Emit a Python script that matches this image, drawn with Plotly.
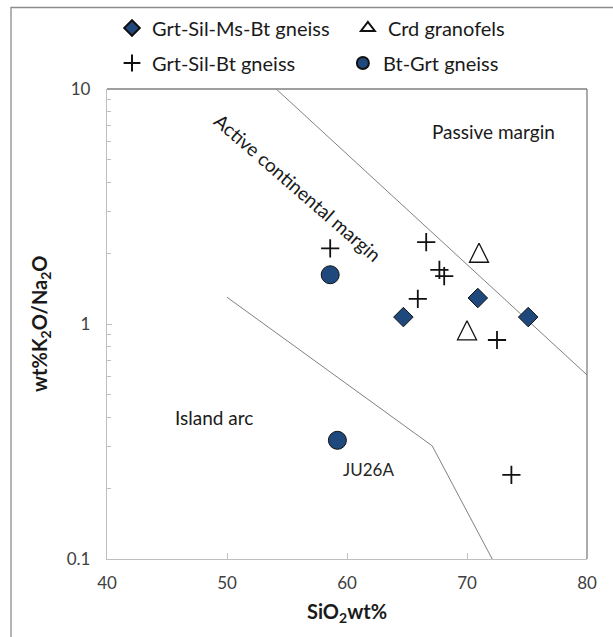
import plotly.graph_objects as go

# ---- data ----
ms_bt_x = [64.7, 70.9, 75.1]
ms_bt_y = [1.07, 1.29, 1.07]

crd_x = [71.0, 70.0]
crd_y = [2.01, 0.94]

sil_bt_x = [58.6, 66.6, 67.7, 68.1, 65.9, 72.5, 73.7]
sil_bt_y = [2.10, 2.23, 1.70, 1.60, 1.28, 0.855, 0.228]

bt_grt_x = [58.6, 59.2]
bt_grt_y = [1.62, 0.32]

pm_acm_x = [54.1, 80.0]
pm_acm_y = [10.0, 0.607]

acm_arc_x = [50.0, 67.1, 72.1]
acm_arc_y = [1.30, 0.303, 0.10]

x_ticks = [40, 50, 60, 70, 80]
y_ticks = [0.1, 1, 10]
y_tick_text = ["0.1", "1", "10"]
y_minor = [0.2, 0.3, 0.4, 0.5, 0.6, 0.7, 0.8, 0.9, 2, 3, 4, 5, 6, 7, 8, 9]

FONT = "Lato"
FS = 17
FS_ANN = 19
FS_LEG = 20
FS_TITLE = 20
BLUE = "#1F497D"
AX = "#BFBFBF"
TRI = 19

fig = go.Figure()

# boundary lines
for bx, by in [(pm_acm_x, pm_acm_y), (acm_arc_x, acm_arc_y)]:
    fig.add_trace(go.Scatter(x=bx, y=by, mode="lines", showlegend=False,
                             line=dict(color="#808080", width=1), hoverinfo="skip"))

fig.add_trace(go.Scatter(x=ms_bt_x, y=ms_bt_y, mode="markers", name="Grt-Sil-Ms-Bt gneiss",
                         legend="legend",
                         marker=dict(symbol="diamond", size=15, color=BLUE,
                                     line=dict(color="#111111", width=1))))
# legend entry for the triangles (plain triangle symbol)
fig.add_trace(go.Scatter(x=[None], y=[None], mode="markers", name="Crd granofels",
                         legend="legend", legendgroup="crd",
                         marker=dict(symbol="triangle-up", size=12, color="white",
                                     line=dict(color="#111111", width=1))))
# upward triangle centred on the point (arrow-down rotated 180 with half-size standoff)
fig.add_trace(go.Scatter(x=crd_x, y=crd_y, mode="markers", name="Crd granofels",
                         legendgroup="crd", showlegend=False,
                         marker=dict(symbol="arrow-down", size=TRI, angle=180, standoff=TRI / 2,
                                     color="white",
                                     line=dict(color="#111111", width=1.3))))
fig.add_trace(go.Scatter(x=sil_bt_x, y=sil_bt_y, mode="markers", name="Grt-Sil-Bt gneiss",
                         legend="legend2",
                         marker=dict(symbol="cross-thin", size=13, color="#111111",
                                     line=dict(color="#111111", width=1.8))))
fig.add_trace(go.Scatter(x=bt_grt_x, y=bt_grt_y, mode="markers", name="Bt-Grt gneiss",
                         legend="legend2",
                         marker=dict(symbol="circle", size=18, color=BLUE,
                                     line=dict(color="#111111", width=1))))

L, R, T, B = 107, 26, 89, 78
W, H = 613, 637
pw, ph = W - L - R, H - T - B

def px_x(p):
    return (p - L) / pw

def px_y(p):
    return (H - B - p) / ph

legend_common = dict(orientation="h", xanchor="left", yanchor="middle",
                     entrywidthmode="fraction", entrywidth=0.481,
                     font=dict(family=FONT, size=FS_LEG, color="#1a1a1a"),
                     bgcolor="rgba(0,0,0,0)", itemwidth=30, itemsizing="constant")

annots = [
    dict(x=72.17, y=0.821, text="Passive margin", xref="x", yref="y", showarrow=False,
         font=dict(family=FONT, size=FS_ANN, color="#1a1a1a")),
    dict(x=55.9, y=0.579, text="Active continental margin", xref="x", yref="y",
         showarrow=False, textangle=41, font=dict(family=FONT, size=FS_ANN, color="#1a1a1a")),
    dict(x=48.9, y=-0.396, text="Island arc", xref="x", yref="y", showarrow=False,
         font=dict(family=FONT, size=FS_ANN, color="#1a1a1a")),
    dict(x=61.75, y=-0.617, text="JU26A", xref="x", yref="y", showarrow=False,
         font=dict(family=FONT, size=FS, color="#262626")),
    dict(x=0.5, y=px_y(612), text="<b>SiO<sub>2</sub>wt%</b>", xref="paper", yref="paper",
         showarrow=False, xanchor="center", yanchor="middle",
         font=dict(family=FONT, size=FS_TITLE, color="#1a1a1a")),
    dict(x=px_x(40), y=0.5, text="<b>wt%K<sub>2</sub>O/Na<sub>2</sub>O</b>", xref="paper",
         yref="paper", showarrow=False, textangle=-90, xanchor="center", yanchor="middle",
         font=dict(family=FONT, size=FS_TITLE, color="#1a1a1a")),
]

shapes = [
    # outer chart border (cropped on right and bottom)
    dict(type="rect", xref="paper", yref="paper", x0=px_x(11), y0=px_y(7.5), x1=2, y1=-1,
         line=dict(color="#8C8C8C", width=1.3), layer="below"),
    # top and right plot-area border
    dict(type="line", xref="paper", yref="paper", x0=0, x1=1, y0=1, y1=1,
         line=dict(color="#7F7F7F", width=1.3)),
    dict(type="line", xref="paper", yref="paper", x0=1, x1=1, y0=0, y1=1,
         line=dict(color="#7F7F7F", width=1.3)),
]

fig.update_layout(
    width=W, height=H,
    margin=dict(l=L, r=R, t=T, b=B, autoexpand=False),
    paper_bgcolor="white", plot_bgcolor="white",
    font=dict(family=FONT, size=FS, color="#404040"),
    legend=dict(x=px_x(112), y=px_y(28), **legend_common),
    legend2=dict(x=px_x(112), y=px_y(63), **legend_common),
    annotations=annots,
    shapes=shapes,
    xaxis=dict(range=[40, 80], tickmode="array", tickvals=x_ticks, ticks="inside",
               ticklen=6, tickcolor=AX, showline=True, linecolor=AX, linewidth=1.3,
               showgrid=False, zeroline=False, ticklabelstandoff=8,
               tickfont=dict(family=FONT, size=FS, color="#404040")),
    yaxis=dict(type="log", range=[-1, 1], tickmode="array", tickvals=y_ticks,
               ticktext=y_tick_text, ticks="inside", ticklen=5, tickcolor=AX,
               showline=True, linecolor=AX, linewidth=1.3, showgrid=False,
               zeroline=False, ticklabelstandoff=12,
               minor=dict(tickmode="array", tickvals=y_minor, ticks="inside", ticklen=4,
                          tickcolor=AX, showgrid=False),
               tickfont=dict(family=FONT, size=FS, color="#404040")),
)

fig.write_html("out.html", config={"displayModeBar": False},
               post_script="document.body.style.margin='0';document.body.style.overflow='hidden';")
